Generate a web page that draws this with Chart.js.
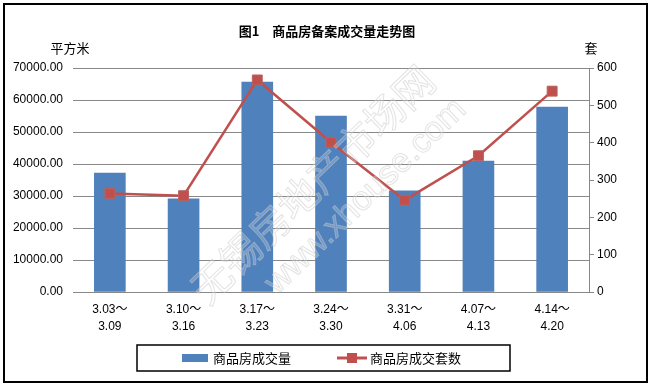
<!DOCTYPE html>
<html>
<head>
<meta charset="utf-8">
<script src="https://cdn.jsdelivr.net/npm/chart.js@4"></script>
<style>
  html, body { margin: 0; padding: 0; background: #fff; }
  #wrap { width: 652px; height: 386px; }
</style>
</head>
<body>
<div id="wrap"><canvas id="houseChart" width="652" height="386"></canvas></div>
<script>
const weeks = [
  ['3.03～', '3.09'],
  ['3.10～', '3.16'],
  ['3.17～', '3.23'],
  ['3.24～', '3.30'],
  ['3.31～', '4.06'],
  ['4.07～', '4.13'],
  ['4.14～', '4.20']
];
const areaSold = [37200, 29100, 65600, 55000, 31600, 40900, 57800];
const unitsSold = [264, 258, 568, 401, 246, 365, 538];

const areaLabel = '商品房成交量';
const unitsLabel = '商品房成交套数';
const chartTitle = '图1　商品房备案成交量走势图';

const cjk = '"Liberation Sans", "Noto Sans CJK SC", sans-serif';
const blue = '#4F81BD';
const red = '#C0504D';

// frame, title, axis units, legend box, watermark
const decor = {
  id: 'decor',
  beforeDraw(chart) {
    const ctx = chart.ctx;
    ctx.save();
    ctx.fillStyle = '#fff';
    ctx.fillRect(0, 0, chart.width, chart.height);
    ctx.restore();
  },
  afterDraw(chart) {
    const ctx = chart.ctx;
    const area = chart.chartArea;
    const yR = chart.scales.y1;
    ctx.save();

    // watermark
    ctx.save();
    ctx.translate(318, 190);
    ctx.rotate(-44 * Math.PI / 180);
    ctx.textAlign = 'center';
    ctx.textBaseline = 'middle';
    ctx.lineWidth = 1;
    ctx.strokeStyle = 'rgba(200,200,200,0.5)';
    ctx.fillStyle = 'rgba(255,255,255,0.2)';
    ctx.font = '40px "Noto Sans CJK SC"';
    ctx.fillText('无锡房地产市场网', 0, -8);
    ctx.strokeText('无锡房地产市场网', 0, -8);
    ctx.font = '34px "Liberation Sans"';
    ctx.fillText('www.xhouse.com', 30, 38);
    ctx.strokeText('www.xhouse.com', 30, 38);
    ctx.restore();

    // outer frame
    ctx.strokeStyle = '#000';
    ctx.lineWidth = 2;
    ctx.strokeRect(4, 4, 643, 378);

    // title
    ctx.fillStyle = '#000';
    ctx.textAlign = 'center';
    ctx.textBaseline = 'middle';
    ctx.font = 'bold 13px "Noto Sans CJK SC"';
    ctx.fillText(chartTitle, 327, 31);

    // axis units
    ctx.font = '13px "Noto Sans CJK SC"';
    ctx.fillText('平方米', 70, area.top - 20);
    ctx.fillText('套', yR.left + 2, area.top - 20);

    // legend
    const lx = 137, ly = 345, lw = 373, lh = 26;
    ctx.lineWidth = 1.5;
    ctx.strokeRect(lx, ly, lw, lh);
    const cy = ly + lh / 2;
    ctx.fillStyle = blue;
    ctx.fillRect(182, cy - 4, 26, 8);
    ctx.strokeStyle = red;
    ctx.lineWidth = 3;
    ctx.beginPath();
    ctx.moveTo(337, cy);
    ctx.lineTo(367, cy);
    ctx.stroke();
    ctx.fillStyle = red;
    ctx.fillRect(347, cy - 5, 10, 10);
    ctx.fillStyle = '#000';
    ctx.textAlign = 'left';
    ctx.font = '13px "Noto Sans CJK SC"';
    ctx.fillText(areaLabel, 213, cy);
    ctx.fillText(unitsLabel, 370, cy);

    ctx.restore();
  }
};

const ctx = document.getElementById('houseChart').getContext('2d');
new Chart(ctx, {
  type: 'bar',
  data: {
    labels: weeks,
    datasets: [
      {
        type: 'line',
        label: unitsLabel,
        data: unitsSold,
        yAxisID: 'y1',
        borderColor: red,
        borderWidth: 2.5,
        backgroundColor: red,
        pointStyle: 'rect',
        pointRadius: 7,
        pointBorderWidth: 1,
        pointBorderColor: '#b9625f',
        pointBackgroundColor: red,
        tension: 0,
        order: 1
      },
      {
        label: areaLabel,
        data: areaSold,
        yAxisID: 'y',
        backgroundColor: blue,
        barThickness: 31,
        order: 2
      }
    ]
  },
  options: {
    responsive: false,
    animation: false,
    layout: {
      padding: { top: 68, bottom: 50, left: 0, right: 0 }
    },
    plugins: {
      legend: { display: false },
      title: { display: false },
      tooltip: { enabled: false }
    },
    scales: {
      x: {
        grid: { display: false, drawTicks: false },
        border: { display: true, color: '#888', width: 1 },
        ticks: {
          color: '#000',
          font: { family: cjk, size: 12, lineHeight: 1.35 },
          padding: 10,
          maxRotation: 0,
          autoSkip: false
        },
        afterFit(scale) { scale.height = 44; }
      },
      y: {
        position: 'left',
        min: 0,
        max: 70000,
        grid: { color: '#888', drawTicks: false },
        border: { display: false },
        ticks: {
          stepSize: 10000,
          color: '#000',
          padding: 10,
          font: { family: cjk, size: 12 },
          callback: v => v.toFixed(2)
        },
        afterFit(scale) { scale.width = 73; }
      },
      y1: {
        position: 'right',
        min: 0,
        max: 600,
        grid: { drawOnChartArea: false, color: '#888', tickLength: 5 },
        border: { display: true, color: '#888' },
        ticks: {
          stepSize: 100,
          color: '#000',
          padding: 3,
          font: { family: cjk, size: 12 }
        },
        afterFit(scale) { scale.width = 63; }
      }
    }
  },
  plugins: [decor]
});
</script>
</body>
</html>
